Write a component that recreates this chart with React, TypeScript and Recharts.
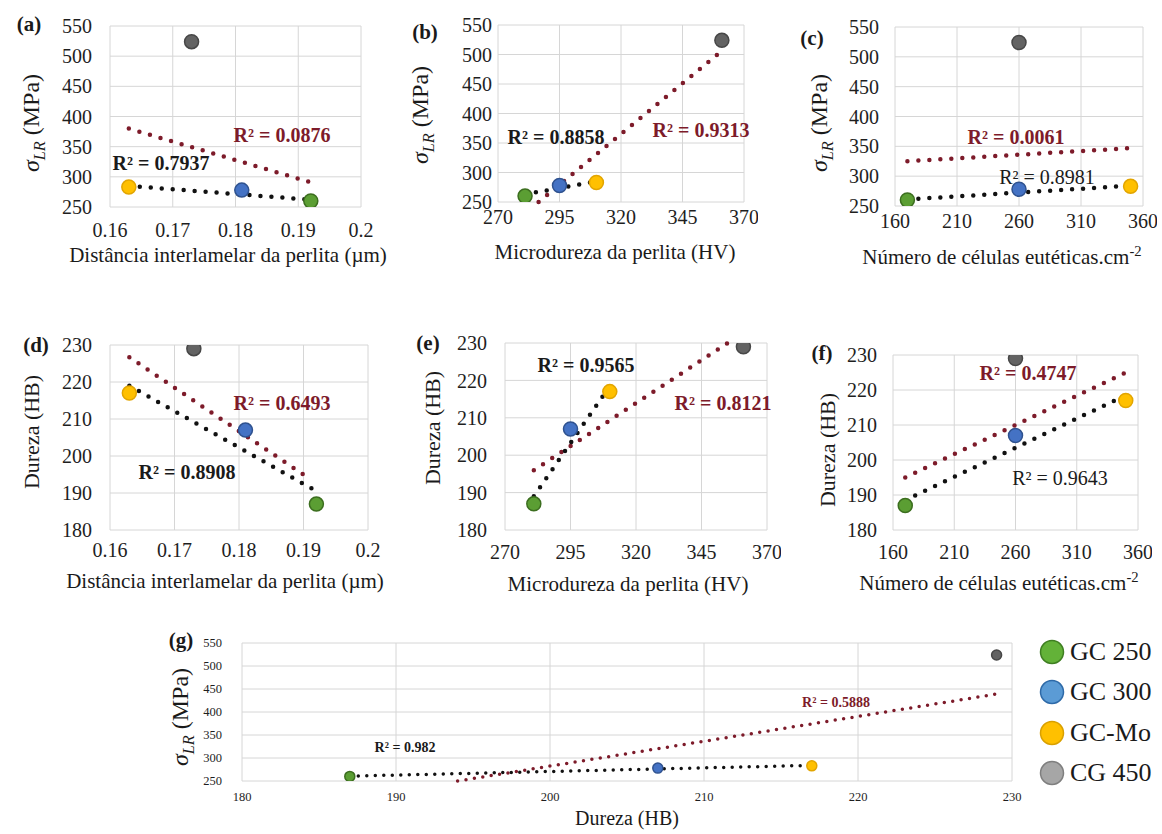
import React from 'react';
import { ScatterChart, Scatter, XAxis, YAxis, CartesianGrid, ReferenceLine } from 'recharts';

// materials and measured values
const materials = ['GC 250', 'GC 300', 'GC-Mo', 'CG 450'];
const sigmaLR = [260, 278, 283, 524];
const durezaHB = [187, 207, 217, 229];
const espacamento = [0.192, 0.181, 0.163, 0.173];
const microdureza = [281, 295, 310, 361];
const celulas = [170, 260, 350, 260];

// tick labels
const ticksSigma = [250, 300, 350, 400, 450, 500, 550];
const ticksHB = [180, 190, 200, 210, 220, 230];
const ticksEsp = [0.16, 0.17, 0.18, 0.19, 0.2];
const ticksHV = [270, 295, 320, 345, 370];
const ticksCel = [160, 210, 260, 310, 360];

// trendlines (GC only = black, all four = red)
const trendA_all = [{ x: 0.163, y: 380 }, { x: 0.192, y: 291 }];
const trendA_gc = [{ x: 0.163, y: 285 }, { x: 0.192, y: 262 }];
const trendB_all = [{ x: 286.5, y: 250 }, { x: 361, y: 506 }];
const trendB_gc = [{ x: 281, y: 263 }, { x: 310, y: 285 }];
const trendC_all = [{ x: 170, y: 325 }, { x: 350, y: 347 }];
const trendC_gc = [{ x: 170, y: 261 }, { x: 350, y: 284 }];
const trendD_all = [{ x: 0.163, y: 226.7 }, { x: 0.191, y: 193.8 }];
const trendD_gc = [{ x: 0.163, y: 219 }, { x: 0.192, y: 190.5 }];
const trendE_all = [{ x: 281, y: 196 }, { x: 355, y: 230 }];
const trendE_gc = [{ x: 281, y: 189 }, { x: 310, y: 218.5 }];
const trendF_all = [{ x: 170, y: 195 }, { x: 350, y: 225 }];
const trendF_gc = [{ x: 170, y: 188.5 }, { x: 350, y: 218.5 }];
const trendG_all = [{ x: 194, y: 250 }, { x: 229, y: 439 }];
const trendG_gc = [{ x: 187, y: 260.5 }, { x: 217, y: 284 }];

const SERIF = "'Liberation Serif', 'Times New Roman', serif";
const RED = '#7d1b2a';
const pointFill = ['#5b9e33', '#4472c4', '#ffc000', '#636363'];
const pointStroke = ['#3c6e1f', '#2f528f', '#e2a500', '#474747'];
const legendFill = ['#63b238', '#5b9bd5', '#ffc000', '#a6a6a6'];
const legendStroke = ['#3f7f22', '#2e6aa8', '#d9a000', '#7f7f7f'];

type Pt = { x: number; y: number };

function Panel(props: {
  box: number[];
  xs: number[];
  ys: number[];
  xDomain: number[];
  xTicks: number[];
  yDomain: number[];
  yTicks: number[];
  red: Pt[];
  black: Pt[];
  font: number;
  xMargin: number;
  yMargin: number;
  r: number;
  dotW: number;
  gap: number;
}) {
  const { box, xs, ys, xDomain, xTicks, yDomain, yTicks, red, black, font, xMargin, yMargin, r, dotW, gap } = props;
  const padL = 80, padT = 12, padR = 14, padB = 40;
  const tick = { fontSize: font, fill: '#1e1e1e', fontFamily: SERIF };
  const data = materials.map((m, i) => ({ name: m, x: xs[i], y: ys[i] }));
  const dots = { strokeWidth: dotW, strokeDasharray: `0 ${gap}`, strokeLinecap: 'round' as const };
  return (
    <div style={{ position: 'absolute', left: box[0] - padL, top: box[1] - padT }}>
      <ScatterChart
        width={box[2] - box[0] + padL + padR}
        height={box[3] - box[1] + padT + padB}
        margin={{ top: padT, right: padR, left: 0, bottom: 0 }}
      >
        <CartesianGrid stroke="#d6d6d6" strokeWidth={1} />
        <XAxis type="number" dataKey="x" domain={xDomain} ticks={xTicks} interval={0} allowDataOverflow
          axisLine={false} tickLine={false} tickSize={0} tickMargin={xMargin} height={padB} tick={tick} />
        <YAxis type="number" dataKey="y" domain={yDomain} ticks={yTicks} interval={0} allowDataOverflow
          axisLine={false} tickLine={false} tickSize={0} tickMargin={yMargin} width={padL} tick={tick} />
        {data.map((d, i) => (
          <Scatter key={d.name} name={d.name} data={[d]} isAnimationActive={false}
            shape={(p: any) => (
              <circle cx={p.cx} cy={p.cy} r={r} fill={pointFill[i]} stroke={pointStroke[i]} strokeWidth={1.5} />
            )} />
        ))}
        <ReferenceLine segment={red} stroke={RED} {...dots} />
        <ReferenceLine segment={black} stroke="#111" {...dots} />
      </ScatterChart>
    </div>
  );
}

function Txt(props: { x: number; y: number; size: number; bold?: boolean; color?: string; children: React.ReactNode }) {
  return (
    <div style={{
      position: 'absolute', left: props.x, top: props.y, transform: 'translate(-50%, -50%)',
      fontSize: props.size, fontWeight: props.bold ? 'bold' : 'normal', color: props.color || '#1a1a1a',
      whiteSpace: 'nowrap', lineHeight: 1, fontFamily: SERIF,
    }}>{props.children}</div>
  );
}

function VTxt(props: { x: number; y: number; size: number; children: React.ReactNode }) {
  return (
    <div style={{
      position: 'absolute', left: props.x, top: props.y, transform: 'translate(-50%, -50%) rotate(-90deg)',
      fontSize: props.size, color: '#1a1a1a', whiteSpace: 'nowrap', lineHeight: 1, fontFamily: SERIF,
    }}>{props.children}</div>
  );
}

const Sigma = () => (
  <span><i>σ<sub style={{ fontSize: '0.68em' }}>LR</sub></i> (MPa)</span>
);
const Cel = () => (
  <span>Número de células eutéticas.cm<sup style={{ fontSize: '0.7em' }}>-2</sup></span>
);

export default function App() {
  return (
    <div style={{ position: 'absolute', left: 0, top: 0, width: 1162, height: 834, background: '#fff', fontFamily: SERIF, overflow: 'hidden' }}>
      {/* (a) */}
      <Panel box={[110, 26, 361, 207]} xs={espacamento} ys={sigmaLR} xDomain={[0.16, 0.2]} xTicks={ticksEsp}
        yDomain={[250, 550]} yTicks={ticksSigma} red={trendA_all} black={trendA_gc}
        font={20} xMargin={16} yMargin={18} r={7} dotW={4.5} gap={11} />
      <Txt x={29} y={24} size={21} bold>(a)</Txt>
      <VTxt x={34} y={123} size={24}><Sigma /></VTxt>
      <Txt x={228} y={255} size={21}>Distância interlamelar da perlita (µm)</Txt>
      <Txt x={282} y={135} size={20} bold color={RED}>R² = 0.0876</Txt>
      <Txt x={161} y={163} size={20} bold>R² = 0.7937</Txt>

      {/* (b) */}
      <Panel box={[498, 25, 744, 202]} xs={microdureza} ys={sigmaLR} xDomain={[270, 370]} xTicks={ticksHV}
        yDomain={[250, 550]} yTicks={ticksSigma} red={trendB_all} black={trendB_gc}
        font={20} xMargin={8} yMargin={6} r={7} dotW={4.5} gap={11} />
      <Txt x={425} y={32} size={21} bold>(b)</Txt>
      <VTxt x={423} y={115} size={24}><Sigma /></VTxt>
      <Txt x={615} y={252} size={21}>Microdureza da perlita (HV)</Txt>
      <Txt x={556} y={137} size={20} bold>R² = 0.8858</Txt>
      <Txt x={701} y={130} size={20} bold color={RED}>R² = 0.9313</Txt>

      {/* (c) */}
      <Panel box={[895, 27, 1143, 206]} xs={celulas} ys={sigmaLR} xDomain={[160, 360]} xTicks={ticksCel}
        yDomain={[250, 550]} yTicks={ticksSigma} red={trendC_all} black={trendC_gc}
        font={20} xMargin={8} yMargin={16} r={7} dotW={4.5} gap={11} />
      <Txt x={812} y={38} size={21} bold>(c)</Txt>
      <VTxt x={822} y={123} size={24}><Sigma /></VTxt>
      <Txt x={1002} y={256} size={21}><Cel /></Txt>
      <Txt x={1016} y={137} size={20} bold color={RED}>R² = 0.0061</Txt>
      <Txt x={1047} y={177} size={20}>R² = 0.8981</Txt>

      {/* (d) */}
      <Panel box={[110, 345, 368, 530]} xs={espacamento} ys={durezaHB} xDomain={[0.16, 0.2]} xTicks={ticksEsp}
        yDomain={[180, 230]} yTicks={ticksHB} red={trendD_all} black={trendD_gc}
        font={20} xMargin={13} yMargin={18} r={7} dotW={4.5} gap={11} />
      <Txt x={36} y={345} size={21} bold>(d)</Txt>
      <VTxt x={32} y={432} size={22}>Dureza (HB)</VTxt>
      <Txt x={225} y={581} size={21}>Distância interlamelar da perlita (µm)</Txt>
      <Txt x={282} y={403} size={20} bold color={RED}>R² = 0.6493</Txt>
      <Txt x={187} y={472} size={20} bold>R² = 0.8908</Txt>

      {/* (e) */}
      <Panel box={[505, 343, 767, 530]} xs={microdureza} ys={durezaHB} xDomain={[270, 370]} xTicks={ticksHV}
        yDomain={[180, 230]} yTicks={ticksHB} red={trendE_all} black={trendE_gc}
        font={20} xMargin={15} yMargin={18} r={7} dotW={4.5} gap={11} />
      <Txt x={428} y={343} size={21} bold>(e)</Txt>
      <VTxt x={433} y={428} size={22}>Dureza (HB)</VTxt>
      <Txt x={628} y={584} size={21}>Microdureza da perlita (HV)</Txt>
      <Txt x={586} y={365} size={20} bold>R² = 0.9565</Txt>
      <Txt x={723} y={403} size={20} bold color={RED}>R² = 0.8121</Txt>

      {/* (f) */}
      <Panel box={[893, 355, 1138, 530]} xs={celulas} ys={durezaHB} xDomain={[160, 360]} xTicks={ticksCel}
        yDomain={[180, 230]} yTicks={ticksHB} red={trendF_all} black={trendF_gc}
        font={20} xMargin={15} yMargin={16} r={7} dotW={4.5} gap={11} />
      <Txt x={822} y={353} size={21} bold>(f)</Txt>
      <VTxt x={828} y={450} size={22}>Dureza (HB)</VTxt>
      <Txt x={999} y={582} size={21}><Cel /></Txt>
      <Txt x={1028} y={373} size={20} bold color={RED}>R² = 0.4747</Txt>
      <Txt x={1060} y={478} size={20}>R² = 0.9643</Txt>

      {/* (g) */}
      <Panel box={[242, 643, 1012, 781]} xs={durezaHB} ys={sigmaLR} xDomain={[180, 230]} xTicks={ticksHB}
        yDomain={[250, 550]} yTicks={ticksSigma} red={trendG_all} black={trendG_gc}
        font={12.5} xMargin={11} yMargin={20} r={5} dotW={3.5} gap={8.5} />
      <Txt x={181} y={640} size={21} bold>(g)</Txt>
      <VTxt x={183} y={717} size={24}><Sigma /></VTxt>
      <Txt x={627} y={818} size={20}>Dureza (HB)</Txt>
      <Txt x={405} y={748} size={14} bold>R² = 0.982</Txt>
      <Txt x={836} y={703} size={14} bold color={RED}>R² = 0.5888</Txt>

      {/* legend */}
      {materials.map((m, i) => (
        <div key={m} style={{ position: 'absolute', left: 1038, top: 652 + i * 40.3 - 15, height: 30, display: 'flex', alignItems: 'center' }}>
          <svg width={28} height={30}>
            <circle cx={14} cy={15} r={11.5} fill={legendFill[i]} stroke={legendStroke[i]} strokeWidth={1.5} />
          </svg>
          <span style={{ marginLeft: 4, fontSize: 26, color: '#1a1a1a', whiteSpace: 'nowrap', fontFamily: SERIF }}>{m}</span>
        </div>
      ))}
    </div>
  );
}
